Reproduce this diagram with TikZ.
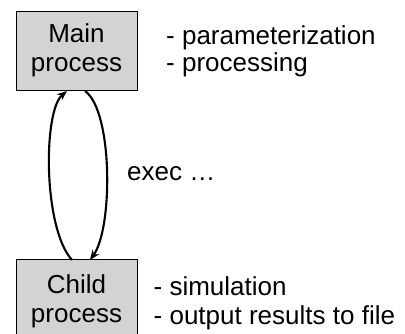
\documentclass[tikz,border=0pt]{standalone}
\usepackage{fontspec}
\setmainfont{Liberation Sans}
\usetikzlibrary{arrows.meta}
\tikzset{
  procbox/.style={draw=black, line width=0.9pt, fill={rgb,255:red,211;green,211;blue,211},
    minimum width=121pt, align=center, inner sep=0pt,
    font=\fontsize{26}{28.5}\selectfont},
  note/.style={anchor=base west, inner sep=0pt, font=\fontsize{26}{28.5}\selectfont},
  loop/.style={line width=2.1pt, -{Stealth[length=10pt,width=8pt]}}
}
\begin{document}
\begin{tikzpicture}[x=1pt,y=1pt]
\useasboundingbox (0,0) rectangle (405,333);
\node[procbox, minimum height=79pt] (main) at (76.5,282.5) {Main\\process};
\node[procbox, minimum height=85pt] (child) at (76.5,31.5) {Child\\process};
\coordinate (mL) at (67,242);
\coordinate (mR) at (85,242);
\coordinate (cL) at (72,73);
\coordinate (cR) at (90,73);
\draw[loop] (cL) .. controls (43,105) and (43,222) .. (mL);
\draw[loop] (mR) .. controls (113,222) and (113,105) .. (cR);
\node[note] (n1) at (166,289) {- parameterization};
\node[note] (n2) at (166,261.3) {- processing};
\node[note] (ex) at (127,153) {exec …};
\node[note] (n3) at (153.5,38) {- simulation};
\node[note] (n4) at (153.5,8.7) {- output results to file};
\end{tikzpicture}
\end{document}
